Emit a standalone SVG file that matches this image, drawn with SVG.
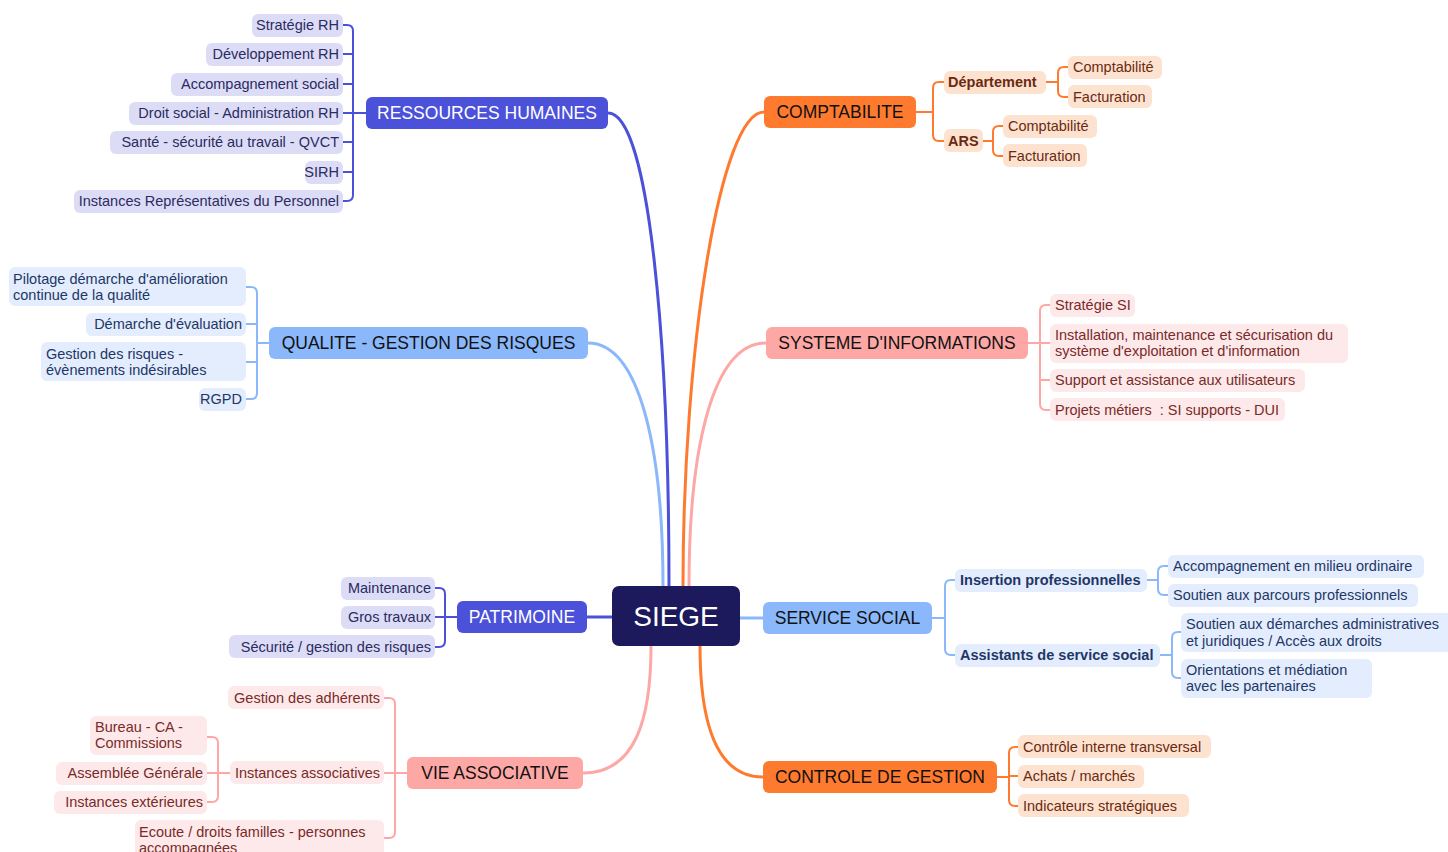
<svg xmlns="http://www.w3.org/2000/svg" width="1448" height="852" viewBox="0 0 1448 852">
<style>
text{font-family:"Liberation Sans",Arial,sans-serif}
.main{font-size:17.5px;text-anchor:middle}
.w{fill:#ffffff}
.k{fill:#111111}
.c{font-size:14.5px}
.e{text-anchor:end}
.b{font-weight:bold}
.conn{fill:none;stroke-width:3;stroke-linecap:round}
.br{fill:none;stroke-width:2;stroke-linecap:round}
.blue{stroke:#4b51d9}.lblue{stroke:#8ab8fb}.orange{stroke:#fe7a2f}.pink{stroke:#fea8a6}
.fb{fill:#4b51d9}.flb{fill:#8ab8fb}.fo{fill:#fe7a2f}.fp{fill:#fea8a6}
.cb{fill:#dcdcf7}.clb{fill:#e4edfd}.co{fill:#fde2d0}.cp{fill:#fde9e9}
.tb{fill:#2b2b5e}.tlb{fill:#1e3766}.to{fill:#6b2a10}.tp{fill:#7a2a2a}
</style>
<g id="connectors">
<path class="conn blue" d="M608,113 C650,113 669,350 669,586"/>
<path class="conn orange" d="M764,112 C720,112 683,350 683,586"/>
<path class="conn lblue" d="M588,343 C640,343 663,450 663,586"/>
<path class="conn pink" d="M766,343 C712,343 689,450 689,586"/>
<path class="conn blue" d="M587,617 L612,617"/>
<path class="conn lblue" d="M740,618 L763,618"/>
<path class="conn pink" d="M583,773 C635,773 651,720 651,646"/>
<path class="conn orange" d="M763,777 C715,777 700,720 700,646"/>
<path class="br blue" d="M366,113 L353,113 M353,31 L353,195 M353,31 Q353,25 347,25 L343,25 M353,54 L343,54 M353,84 L343,84 M353,113 L343,113 M353,142 L343,142 M353,172 L343,172 M353,195 Q353,201 347,201 L343,201"/>
<path class="br lblue" d="M269,343 L257,343 M257,293 L257,393 M257,293 Q257,287 251,287 L246,287 M257,324 L246,324 M257,362 L246,362 M257,393 Q257,399 251,399 L246,399"/>
<path class="br blue" d="M457,617 L435,617 M445,594 L445,641 M445,594 Q445,588 439,588 L435,588 M445,641 Q445,647 439,647 L435,647"/>
<path class="br pink" d="M407,773 L384,773 M395,704 L395,832 M395,704 Q395,698 389,698 L384,698 M395,832 Q395,838 389,838 L384,838"/>
<path class="br pink" d="M230,773 L207,773 M218,743 L218,796 M218,743 Q218,737 212,737 L207,737 M218,796 Q218,802 212,802 L207,802"/>
<path class="br orange" d="M916,112 L933,112 M933,88 L933,135 M933,88 Q933,82 939,82 L944,82 M933,135 Q933,141 939,141 L944,141"/>
<path class="br orange" d="M1046,82 L1058,82 M1058,73 L1058,91 M1058,73 Q1058,67 1064,67 L1068,67 M1058,91 Q1058,97 1064,97 L1068,97"/>
<path class="br orange" d="M983,141 L993,141 M993,132 L993,150 M993,132 Q993,126 999,126 L1003,126 M993,150 Q993,156 999,156 L1003,156"/>
<path class="br pink" d="M1028,343 L1050,343 M1040,311 L1040,404 M1040,311 Q1040,305 1046,305 L1050,305 M1040,380 L1050,380 M1040,404 Q1040,410 1046,410 L1050,410"/>
<path class="br lblue" d="M932,618 L945,618 M945,586 L945,649 M945,586 Q945,580 951,580 L955,580 M945,649 Q945,655 951,655 L955,655"/>
<path class="br lblue" d="M1147,580 L1158,580 M1158,572 L1158,589 M1158,572 Q1158,566 1164,566 L1168,566 M1158,589 Q1158,595 1164,595 L1168,595"/>
<path class="br lblue" d="M1160,655 L1172,655 M1172,638 L1172,672 M1172,638 Q1172,632 1178,632 L1181,632 M1172,672 Q1172,678 1178,678 L1181,678"/>
<path class="br orange" d="M997,777 L1009,777 M1009,753 L1009,800 M1009,753 Q1009,747 1015,747 L1018,747 M1009,776 L1018,776 M1009,800 Q1009,806 1015,806 L1018,806"/>
</g>
<g id="siege"><rect x="612" y="586" width="128" height="60" rx="7" fill="#1c1a5c"/><text x="676" y="626" class="w" style="font-size:28px;text-anchor:middle">SIEGE</text></g>
<g id="rh"><rect x="366" y="97" width="242" height="32" rx="6" class="fb"/><text x="487" y="119" class="main w">RESSOURCES HUMAINES</text></g>
<g id="rh-1"><rect x="252" y="14" width="91" height="23" rx="6" class="cb"/><text x="339" y="30" class="c e tb">Stratégie RH</text></g>
<g id="rh-2"><rect x="206" y="43" width="137" height="23" rx="6" class="cb"/><text x="339" y="59" class="c e tb">Développement RH</text></g>
<g id="rh-3"><rect x="171" y="73" width="172" height="23" rx="6" class="cb"/><text x="339" y="89" class="c e tb">Accompagnement social</text></g>
<g id="rh-4"><rect x="129" y="102" width="214" height="23" rx="6" class="cb"/><text x="339" y="118" class="c e tb">Droit social - Administration RH</text></g>
<g id="rh-5"><rect x="110" y="131" width="233" height="23" rx="6" class="cb"/><text x="339" y="147" class="c e tb">Santé - sécurité au travail - QVCT</text></g>
<g id="rh-6"><rect x="305" y="161" width="38" height="23" rx="6" class="cb"/><text x="339" y="177" class="c e tb">SIRH</text></g>
<g id="rh-7"><rect x="74" y="190" width="269" height="23" rx="6" class="cb"/><text x="339" y="206" class="c e tb">Instances Représentatives du Personnel</text></g>
<g id="qualite"><rect x="269" y="327" width="319" height="32" rx="6" class="flb"/><text x="428.5" y="349" class="main k">QUALITE - GESTION DES RISQUES</text></g>
<g id="q-1"><rect x="9" y="267" width="237" height="39" rx="6" class="clb"/><text x="13" y="284" class="c tlb">Pilotage démarche d'amélioration</text><text x="13" y="300" class="c tlb">continue de la qualité</text></g>
<g id="q-2"><rect x="86" y="313" width="160" height="23" rx="6" class="clb"/><text x="242" y="329" class="c e tlb">Démarche d'évaluation</text></g>
<g id="q-3"><rect x="41" y="342" width="205" height="39" rx="6" class="clb"/><text x="46" y="359" class="c tlb">Gestion des risques -</text><text x="46" y="375" class="c tlb">évènements indésirables</text></g>
<g id="q-4"><rect x="199" y="388" width="47" height="23" rx="6" class="clb"/><text x="242" y="404" class="c e tlb">RGPD</text></g>
<g id="patrimoine"><rect x="457" y="601" width="130" height="32" rx="6" class="fb"/><text x="522" y="623" class="main w">PATRIMOINE</text></g>
<g id="p-1"><rect x="341" y="577" width="94" height="23" rx="6" class="cb"/><text x="431" y="593" class="c e tb">Maintenance</text></g>
<g id="p-2"><rect x="341" y="606" width="94" height="23" rx="6" class="cb"/><text x="431" y="622" class="c e tb">Gros travaux</text></g>
<g id="p-3"><rect x="229" y="635" width="206" height="23" rx="6" class="cb"/><text x="431" y="652" class="c e tb">Sécurité / gestion des risques</text></g>
<g id="vie"><rect x="407" y="757" width="176" height="32" rx="6" class="fp"/><text x="495" y="779" class="main k">VIE ASSOCIATIVE</text></g>
<g id="v-1"><rect x="228" y="686" width="156" height="23" rx="6" class="cp"/><text x="380" y="703" class="c e tp">Gestion des adhérents</text></g>
<g id="v-2"><rect x="230" y="761" width="154" height="23" rx="6" class="cp"/><text x="380" y="778" class="c e tp">Instances associatives</text></g>
<g id="v-3"><rect x="135" y="820" width="249" height="40" rx="6" class="cp"/><text x="139" y="837" class="c tp">Ecoute / droits familles - personnes</text><text x="139" y="853" class="c tp">accompagnées</text></g>
<g id="v-2-1"><rect x="90" y="716" width="117" height="39" rx="6" class="cp"/><text x="95" y="732" class="c tp">Bureau - CA -</text><text x="95" y="748" class="c tp">Commissions</text></g>
<g id="v-2-2"><rect x="56" y="762" width="151" height="23" rx="6" class="cp"/><text x="203" y="778" class="c e tp">Assemblée Générale</text></g>
<g id="v-2-3"><rect x="54" y="791" width="153" height="23" rx="6" class="cp"/><text x="203" y="807" class="c e tp">Instances extérieures</text></g>
<g id="compta"><rect x="764" y="96" width="152" height="32" rx="6" class="fo"/><text x="840" y="118" class="main k">COMPTABILITE</text></g>
<g id="c-1"><rect x="944" y="71" width="102" height="23" rx="6" class="co"/><text x="948" y="87" class="c b to">Département</text></g>
<g id="c-2"><rect x="944" y="129" width="39" height="23" rx="6" class="co"/><text x="948" y="146" class="c b to">ARS</text></g>
<g id="c-1-1"><rect x="1068" y="56" width="94" height="23" rx="6" class="co"/><text x="1073" y="72" class="c to">Comptabilité</text></g>
<g id="c-1-2"><rect x="1068" y="85" width="84" height="23" rx="6" class="co"/><text x="1073" y="102" class="c to">Facturation</text></g>
<g id="c-2-1"><rect x="1003" y="115" width="94" height="23" rx="6" class="co"/><text x="1008" y="131" class="c to">Comptabilité</text></g>
<g id="c-2-2"><rect x="1003" y="144" width="84" height="23" rx="6" class="co"/><text x="1008" y="161" class="c to">Facturation</text></g>
<g id="si"><rect x="766" y="327" width="262" height="32" rx="6" class="fp"/><text x="897" y="349" class="main k">SYSTEME D'INFORMATIONS</text></g>
<g id="si-1"><rect x="1050" y="294" width="85" height="23" rx="6" class="cp"/><text x="1055" y="310" class="c tp">Stratégie SI</text></g>
<g id="si-2"><rect x="1050" y="324" width="298" height="39" rx="6" class="cp"/><text x="1055" y="340" class="c tp">Installation, maintenance et sécurisation du</text><text x="1055" y="356" class="c tp">système d'exploitation et d'information</text></g>
<g id="si-3"><rect x="1050" y="369" width="255" height="23" rx="6" class="cp"/><text x="1055" y="385" class="c tp">Support et assistance aux utilisateurs</text></g>
<g id="si-4"><rect x="1050" y="398" width="235" height="23" rx="6" class="cp"/><text x="1055" y="415" class="c tp">Projets métiers&#160; : SI supports - DUI</text></g>
<g id="social"><rect x="763" y="602" width="169" height="32" rx="6" class="flb"/><text x="847.5" y="624" class="main k">SERVICE SOCIAL</text></g>
<g id="s-1"><rect x="955" y="569" width="192" height="23" rx="6" class="clb"/><text x="960" y="585" class="c b tlb">Insertion professionnelles</text></g>
<g id="s-2"><rect x="955" y="644" width="205" height="23" rx="6" class="clb"/><text x="960" y="660" class="c b tlb">Assistants de service social</text></g>
<g id="s-1-1"><rect x="1168" y="555" width="256" height="23" rx="6" class="clb"/><text x="1173" y="571" class="c tlb">Accompagnement en milieu ordinaire</text></g>
<g id="s-1-2"><rect x="1168" y="584" width="250" height="23" rx="6" class="clb"/><text x="1173" y="600" class="c tlb">Soutien aux parcours professionnels</text></g>
<g id="s-2-1"><rect x="1181" y="613" width="272" height="39" rx="6" class="clb"/><text x="1186" y="629" class="c tlb">Soutien aux démarches administratives</text><text x="1186" y="646" class="c tlb">et juridiques / Accès aux droits</text></g>
<g id="s-2-2"><rect x="1181" y="659" width="191" height="39" rx="6" class="clb"/><text x="1186" y="675" class="c tlb">Orientations et médiation</text><text x="1186" y="691" class="c tlb">avec les partenaires</text></g>
<g id="controle"><rect x="763" y="761" width="234" height="32" rx="6" class="fo"/><text x="880" y="783" class="main k">CONTROLE DE GESTION</text></g>
<g id="cg-1"><rect x="1018" y="735" width="193" height="23" rx="6" class="co"/><text x="1023" y="752" class="c to">Contrôle interne transversal</text></g>
<g id="cg-2"><rect x="1018" y="765" width="126" height="23" rx="6" class="co"/><text x="1023" y="781" class="c to">Achats / marchés</text></g>
<g id="cg-3"><rect x="1018" y="794" width="171" height="23" rx="6" class="co"/><text x="1023" y="811" class="c to">Indicateurs stratégiques</text></g>
</svg>
